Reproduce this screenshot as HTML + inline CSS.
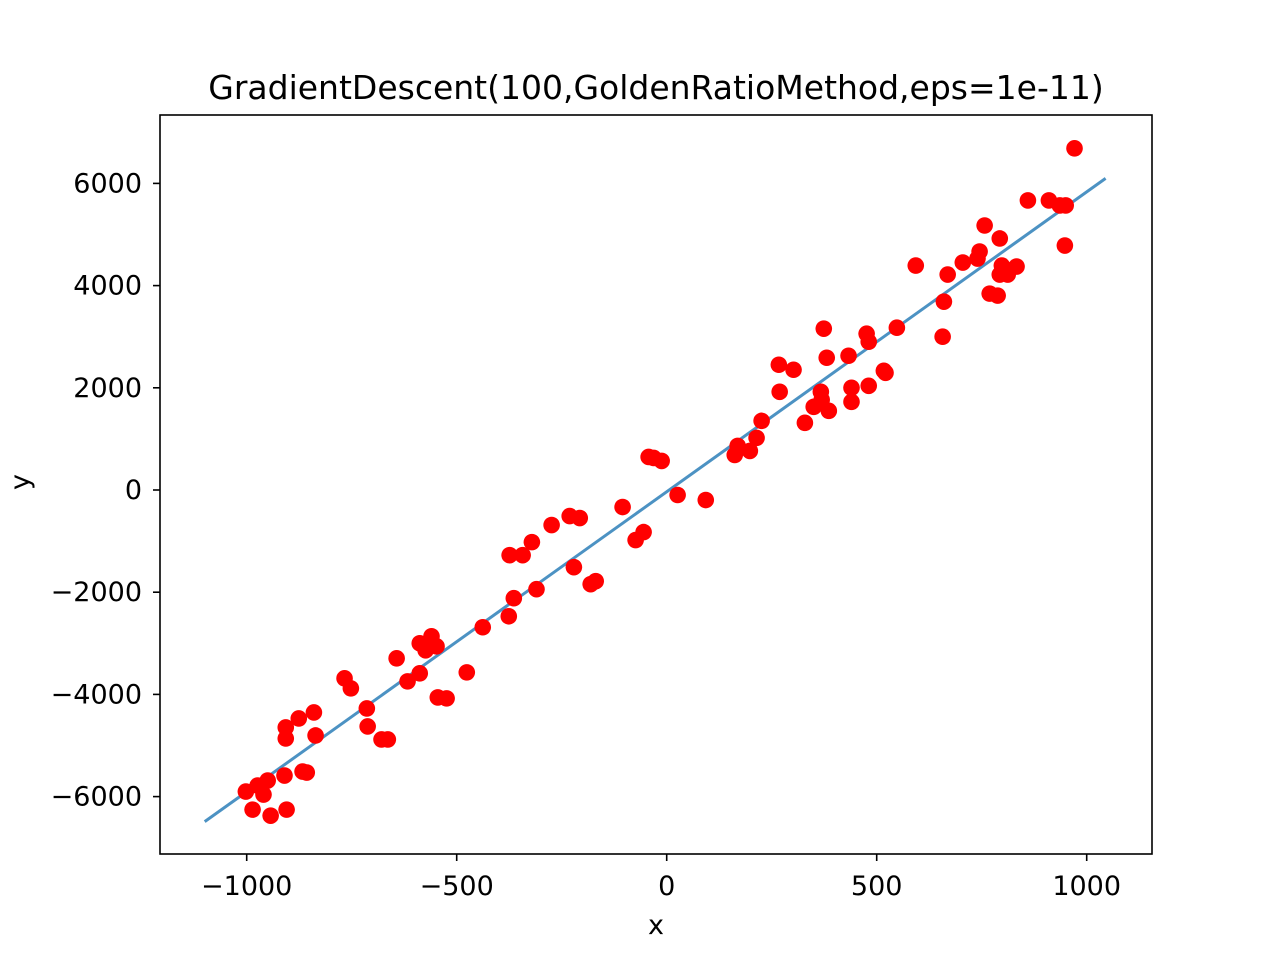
<!DOCTYPE html>
<html><head><meta charset="utf-8"><style>
body{margin:0;background:#fff;}
svg text{font-family:"DejaVu Sans","Liberation Sans",sans-serif;fill:#000;}
</style></head><body>
<svg id="chart" width="1280" height="960" xmlns="http://www.w3.org/2000/svg">
<rect width="1280" height="960" fill="#fff"/>
<text x="656" y="99" font-size="33" text-anchor="middle">GradientDescent(100,GoldenRatioMethod,eps=1e-11)</text>
<g id="marks"></g>
<rect x="160" y="115" width="992" height="739" fill="none" stroke="#000" stroke-width="1.6"/>
<g id="axes"></g>
<text x="656" y="934" font-size="27" text-anchor="middle">x</text>
<text x="29" y="482" font-size="27" text-anchor="middle" transform="rotate(-90 29 482)">y</text>
</svg>
<script>
const xTicks=[-1000,-500,0,500,1000];
const yTicks=[-6000,-4000,-2000,0,2000,4000,6000];
const lineX=[-1100,1045];
const lineY=[-6490,6098];
const pointsX=[-1002,-986,-974,-960,-950,-943,-910,-905,-907,-907,-876,-867,-857,-840,-836,-767,-752,-714,-712,-679,-664,-643,-617,-588,-588,-574,-560,-548,-545,-524,-476,-438,-376,-364,-374,-343,-321,-310,-274,-231,-221,-207,-181,-169,-105,-74,-55,-43,-31,-12,26,93,162,169,198,214,226,267,269,302,329,350,367,369,374,381,386,433,440,440,476,481,481,517,521,548,593,657,660,669,705,740,745,757,769,793,788,793,798,812,833,860,910,936,950,948,971];
const pointsY=[-5902,-6255,-5784,-5961,-5686,-6373,-5588,-6255,-4863,-4647,-4471,-5510,-5529,-4353,-4804,-3686,-3882,-4275,-4627,-4882,-4882,-3294,-3745,-3588,-3000,-3137,-2863,-3059,-4059,-4078,-3569,-2686,-2471,-2118,-1275,-1275,-1020,-1941,-686,-510,-1510,-549,-1843,-1784,-333,-980,-824,647,627,569,-98,-196,686,863,765,1020,1353,2451,1922,2353,1314,1627,1922,1765,3157,2588,1549,2627,2000,1725,3059,2902,2039,2333,2294,3176,4392,3000,3686,4216,4451,4529,4667,5176,3843,4922,3804,4216,4392,4216,4373,5667,5667,5569,5569,4784,6686];
const sx=v=>666.7+v*0.42;
const sy=v=>490-v*0.0511;
const NS='http://www.w3.org/2000/svg';
const marks=document.getElementById('marks'), axes=document.getElementById('axes');
const fmt=v=>v<0?'\u2212'+Math.abs(v):String(v);
const line=document.createElementNS(NS,'line');
line.setAttribute('x1',sx(lineX[0]));line.setAttribute('y1',sy(lineY[0]));
line.setAttribute('x2',sx(lineX[1]));line.setAttribute('y2',sy(lineY[1]));
line.setAttribute('stroke','#1f77b4');line.setAttribute('stroke-opacity','0.8');line.setAttribute('stroke-width','3');


marks.appendChild(line);
for(let i=0;i<pointsX.length;i++){
  const c=document.createElementNS(NS,'circle');
  c.setAttribute('cx',sx(pointsX[i]));c.setAttribute('cy',sy(pointsY[i]));c.setAttribute('r','8.3');c.setAttribute('fill','#ff0000');
  
  
  marks.appendChild(c);
}
xTicks.forEach(v=>{
  const x=sx(v);
  const t=document.createElementNS(NS,'line');
  t.setAttribute('x1',x);t.setAttribute('x2',x);t.setAttribute('y1',854);t.setAttribute('y2',861);t.setAttribute('stroke','#000');t.setAttribute('stroke-width','1.6');
  
  
  axes.appendChild(t);
  const l=document.createElementNS(NS,'text');
  l.setAttribute('x',x);l.setAttribute('y',895);l.setAttribute('font-size','27');l.setAttribute('text-anchor','middle');l.textContent=fmt(v);
  
  
  axes.appendChild(l);
});
yTicks.forEach(v=>{
  const y=sy(v);
  const t=document.createElementNS(NS,'line');
  t.setAttribute('x1',153);t.setAttribute('x2',160);t.setAttribute('y1',y);t.setAttribute('y2',y);t.setAttribute('stroke','#000');t.setAttribute('stroke-width','1.6');
  
  
  axes.appendChild(t);
  const l=document.createElementNS(NS,'text');
  l.setAttribute('x',142);l.setAttribute('y',y+9);l.setAttribute('font-size','27');l.setAttribute('text-anchor','end');l.textContent=fmt(v);
  
  
  axes.appendChild(l);
});
</script>
</body></html>
